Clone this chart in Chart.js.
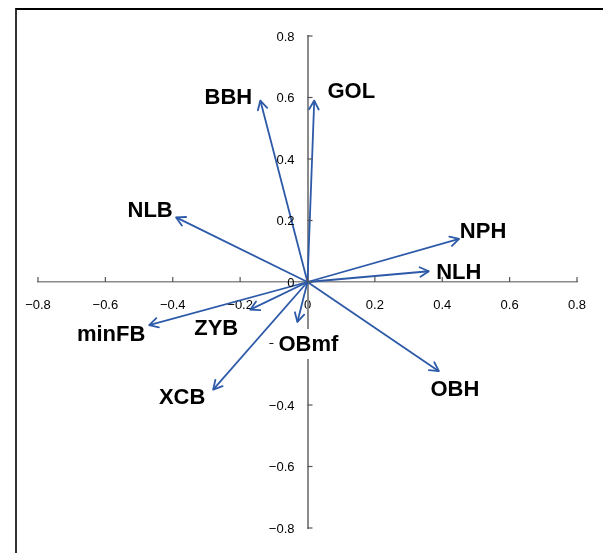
<!DOCTYPE html>
<html>
<head>
<meta charset="utf-8">
<title>Biplot</title>
<script src="https://cdn.jsdelivr.net/npm/chart.js@4.4.1/dist/chart.umd.min.js"></script>
<style>
    html, body { margin: 0; padding: 0; background: #fff; overflow: hidden; }
    #wrap { position: relative; width: 603px; height: 553px; overflow: hidden; }
    #frame {
        position: absolute; left: 15px; top: 8px;
        width: 640px; height: 600px;
        border-left: 2px solid #333;
        border-top: 2px solid #000;
    }
    #chart { position: absolute; left: 0; top: 0; }
</style>
</head>
<body>
<div id="wrap">
    <div id="frame"></div>
    <canvas id="chart" width="603" height="553"></canvas>
</div>
<script>
// Variable loadings
const variables = ['BBH', 'GOL', 'NLB', 'NPH', 'NLH', 'minFB', 'ZYB', 'OBmf', 'XCB', 'OBH'];
const loadX = [-0.14, 0.02, -0.39, 0.45, 0.36, -0.47, -0.17, -0.03, -0.28, 0.39];
const loadY = [0.59, 0.59, 0.21, 0.14, 0.035, -0.14, -0.09, -0.13, -0.35, -0.29];

// Axis range / ticks
const axisMin = -0.8;
const axisMax = 0.8;
const axisStep = 0.2;

// Label placement (pixel offset of label centre from arrow tip)
const LABEL_POS = {
    BBH:   { dx: -32, dy: -4 },
    GOL:   { dx: 37,  dy: -10 },
    NLB:   { dx: -26, dy: -7 },
    NPH:   { dx: 24,  dy: -8 },
    NLH:   { dx: 30,  dy: 1 },
    minFB: { dx: -38, dy: 9 },
    ZYB:   { dx: -34, dy: 18 },
    OBmf:  { dx: 11,  dy: 22, bg: true },
    XCB:   { dx: -31, dy: 7 },
    OBH:   { dx: 16,  dy: 18 }
};

const ARROW_COLOR = '#2d5aa8';
const AXIS_COLOR = '#8a8a8a';
const FONT_FAMILY = '"Liberation Sans", Arial, sans-serif';

function fmtTick(v) {
    const r = Math.round(v * 10) / 10;
    if (r === 0) return '0';
    return (r < 0 ? '\u2212' : '') + Math.abs(r).toFixed(1);
}

// inside tick marks (x ticks point up, y ticks point right) + y tick labels
// (chart.js ignores ticks.padding on a centred y axis, so the labels are drawn here)
const tickPlugin = {
    id: 'insideTicks',
    afterDraw(chart) {
        const ctx = chart.ctx;
        const xs = chart.scales.x, ys = chart.scales.y;
        const x0 = xs.getPixelForValue(0), y0 = ys.getPixelForValue(0);
        ctx.save();
        ctx.strokeStyle = '#555';
        ctx.lineWidth = 1.2;
        xs.ticks.forEach(t => {
            const px = xs.getPixelForValue(t.value);
            ctx.beginPath();
            ctx.moveTo(px, y0);
            ctx.lineTo(px, y0 - 5);
            ctx.stroke();
        });
        ctx.fillStyle = '#000';
        ctx.font = '13px ' + FONT_FAMILY;
        ctx.textAlign = 'right';
        ctx.textBaseline = 'middle';
        ys.ticks.forEach(t => {
            const py = ys.getPixelForValue(t.value);
            ctx.beginPath();
            ctx.moveTo(x0, py);
            ctx.lineTo(x0 + 5, py);
            ctx.stroke();
            ctx.fillText(fmtTick(t.value), x0 - 13, py + 1);
        });
        ctx.restore();
    }
};

// arrow heads and variable labels
const arrowPlugin = {
    id: 'arrows',
    afterDraw(chart) {
        const ctx = chart.ctx;
        ctx.save();
        chart.data.datasets.forEach((ds, i) => {
            const pts = chart.getDatasetMeta(i).data;
            const a = pts[0], b = pts[1];
            const ang = Math.atan2(b.y - a.y, b.x - a.x);
            const len = 10, spread = 0.5;
            ctx.strokeStyle = ARROW_COLOR;
            ctx.lineWidth = 1.8;
            ctx.lineCap = 'round';
            ctx.lineJoin = 'round';
            ctx.beginPath();
            ctx.moveTo(b.x - len * Math.cos(ang - spread), b.y - len * Math.sin(ang - spread));
            ctx.lineTo(b.x, b.y);
            ctx.lineTo(b.x - len * Math.cos(ang + spread), b.y - len * Math.sin(ang + spread));
            ctx.stroke();

            const name = ds.label;
            const lp = LABEL_POS[name];
            const cx = b.x + lp.dx, cy = b.y + lp.dy;
            ctx.font = 'bold 22px ' + FONT_FAMILY;
            ctx.textAlign = 'center';
            ctx.textBaseline = 'middle';
            if (lp.bg) {
                const w = ctx.measureText(name).width;
                ctx.fillStyle = '#fff';
                ctx.fillRect(cx - w / 2 - 5, cy - 15, w + 10, 30);
            }
            ctx.fillStyle = '#000';
            ctx.fillText(name, cx, cy + 1);
        });
        ctx.restore();
    }
};

const datasets = variables.map((name, i) => ({
    label: name,
    data: [{ x: 0, y: 0 }, { x: loadX[i], y: loadY[i] }],
    showLine: true,
    borderColor: ARROW_COLOR,
    borderWidth: 1.8,
    pointRadius: 0,
    pointHoverRadius: 0,
    fill: false
}));

new Chart(document.getElementById('chart').getContext('2d'), {
    type: 'scatter',
    data: { datasets },
    options: {
        responsive: false,
        animation: false,
        layout: { padding: { left: 38, right: 26, top: 36, bottom: 25 } },
        plugins: {
            legend: { display: false },
            tooltip: { enabled: false }
        },
        scales: {
            x: {
                type: 'linear',
                min: axisMin,
                max: axisMax,
                position: { y: 0 },
                grid: { drawOnChartArea: false, drawTicks: false },
                border: { color: AXIS_COLOR, width: 1.5 },
                ticks: {
                    stepSize: axisStep,
                    padding: 16,
                    color: '#000',
                    font: { family: FONT_FAMILY, size: 13 },
                    maxRotation: 0,
                    callback: fmtTick
                }
            },
            y: {
                type: 'linear',
                min: axisMin,
                max: axisMax,
                position: { x: 0 },
                grid: { drawOnChartArea: false, drawTicks: false },
                border: { color: AXIS_COLOR, width: 2 },
                ticks: {
                    stepSize: axisStep,
                    display: false
                }
            }
        }
    },
    plugins: [tickPlugin, arrowPlugin]
});
</script>
</body>
</html>
